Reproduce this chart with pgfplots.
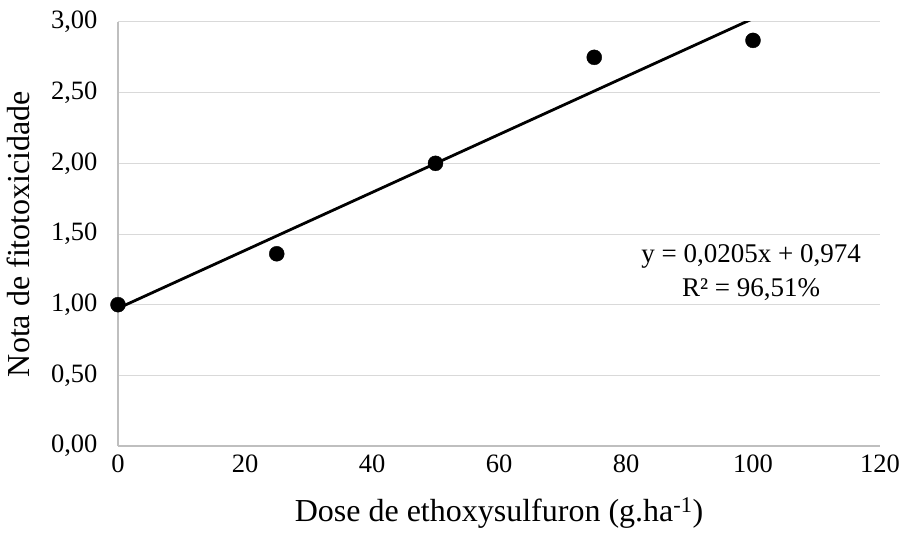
\documentclass[border=0pt]{standalone}
\usepackage{fontspec}
\setmainfont{Liberation Serif}
\usepackage{pgfplots}
\pgfplotsset{compat=1.18}
\definecolor{gridc}{HTML}{D9D9D9}
\definecolor{axc}{HTML}{BFBFBF}
\begin{document}
\begin{tikzpicture}
\begin{axis}[
  scale only axis, width=762pt, height=424pt,
  xmin=0, xmax=120, ymin=0, ymax=3,
  xtick={0,20,40,60,80,100,120},
  ytick={0,0.5,1,1.5,2,2.5,3},
  axis lines=left,
  axis line style={-, draw=axc, line width=1.2pt},
  ymajorgrids, grid style={draw=gridc, line width=1pt},
  major tick length=0pt, tick style={draw=none},
  /pgf/number format/assume math mode=true,
  ticklabel style={font=\fontsize{26.5}{30}\selectfont},
  yticklabel style={/pgf/number format/.cd, fixed, fixed zerofill, precision=2, use comma, /tikz/.cd, xshift=-17pt},
  xticklabel style={yshift=-5pt},
  label style={font=\fontsize{32}{36}\selectfont},
  xlabel={Dose de ethoxysulfuron (g.ha\textsuperscript{-1})},
  ylabel={Nota de fitotoxicidade},
  xlabel style={yshift=-18pt},
  ylabel style={yshift=14pt},
  clip mode=individual,
]
\addplot[black, line width=2.8pt] coordinates {(0,0.974) (100,3.024)};
\addplot[only marks, mark=*, mark size=7.5pt, black] coordinates {
(0,1.00) (25,1.36) (50,2.00) (75,2.75) (100,2.87)};
\node[align=center, font=\fontsize{27}{34}\selectfont] at (axis cs:99.7,1.23) {y = 0,0205x + 0,974\\R² = 96,51\%};
\end{axis}
\path (current axis.south west) +(-118pt,-87pt);
\path (current axis.north east) +(27pt,22pt);
\end{tikzpicture}
\end{document}
